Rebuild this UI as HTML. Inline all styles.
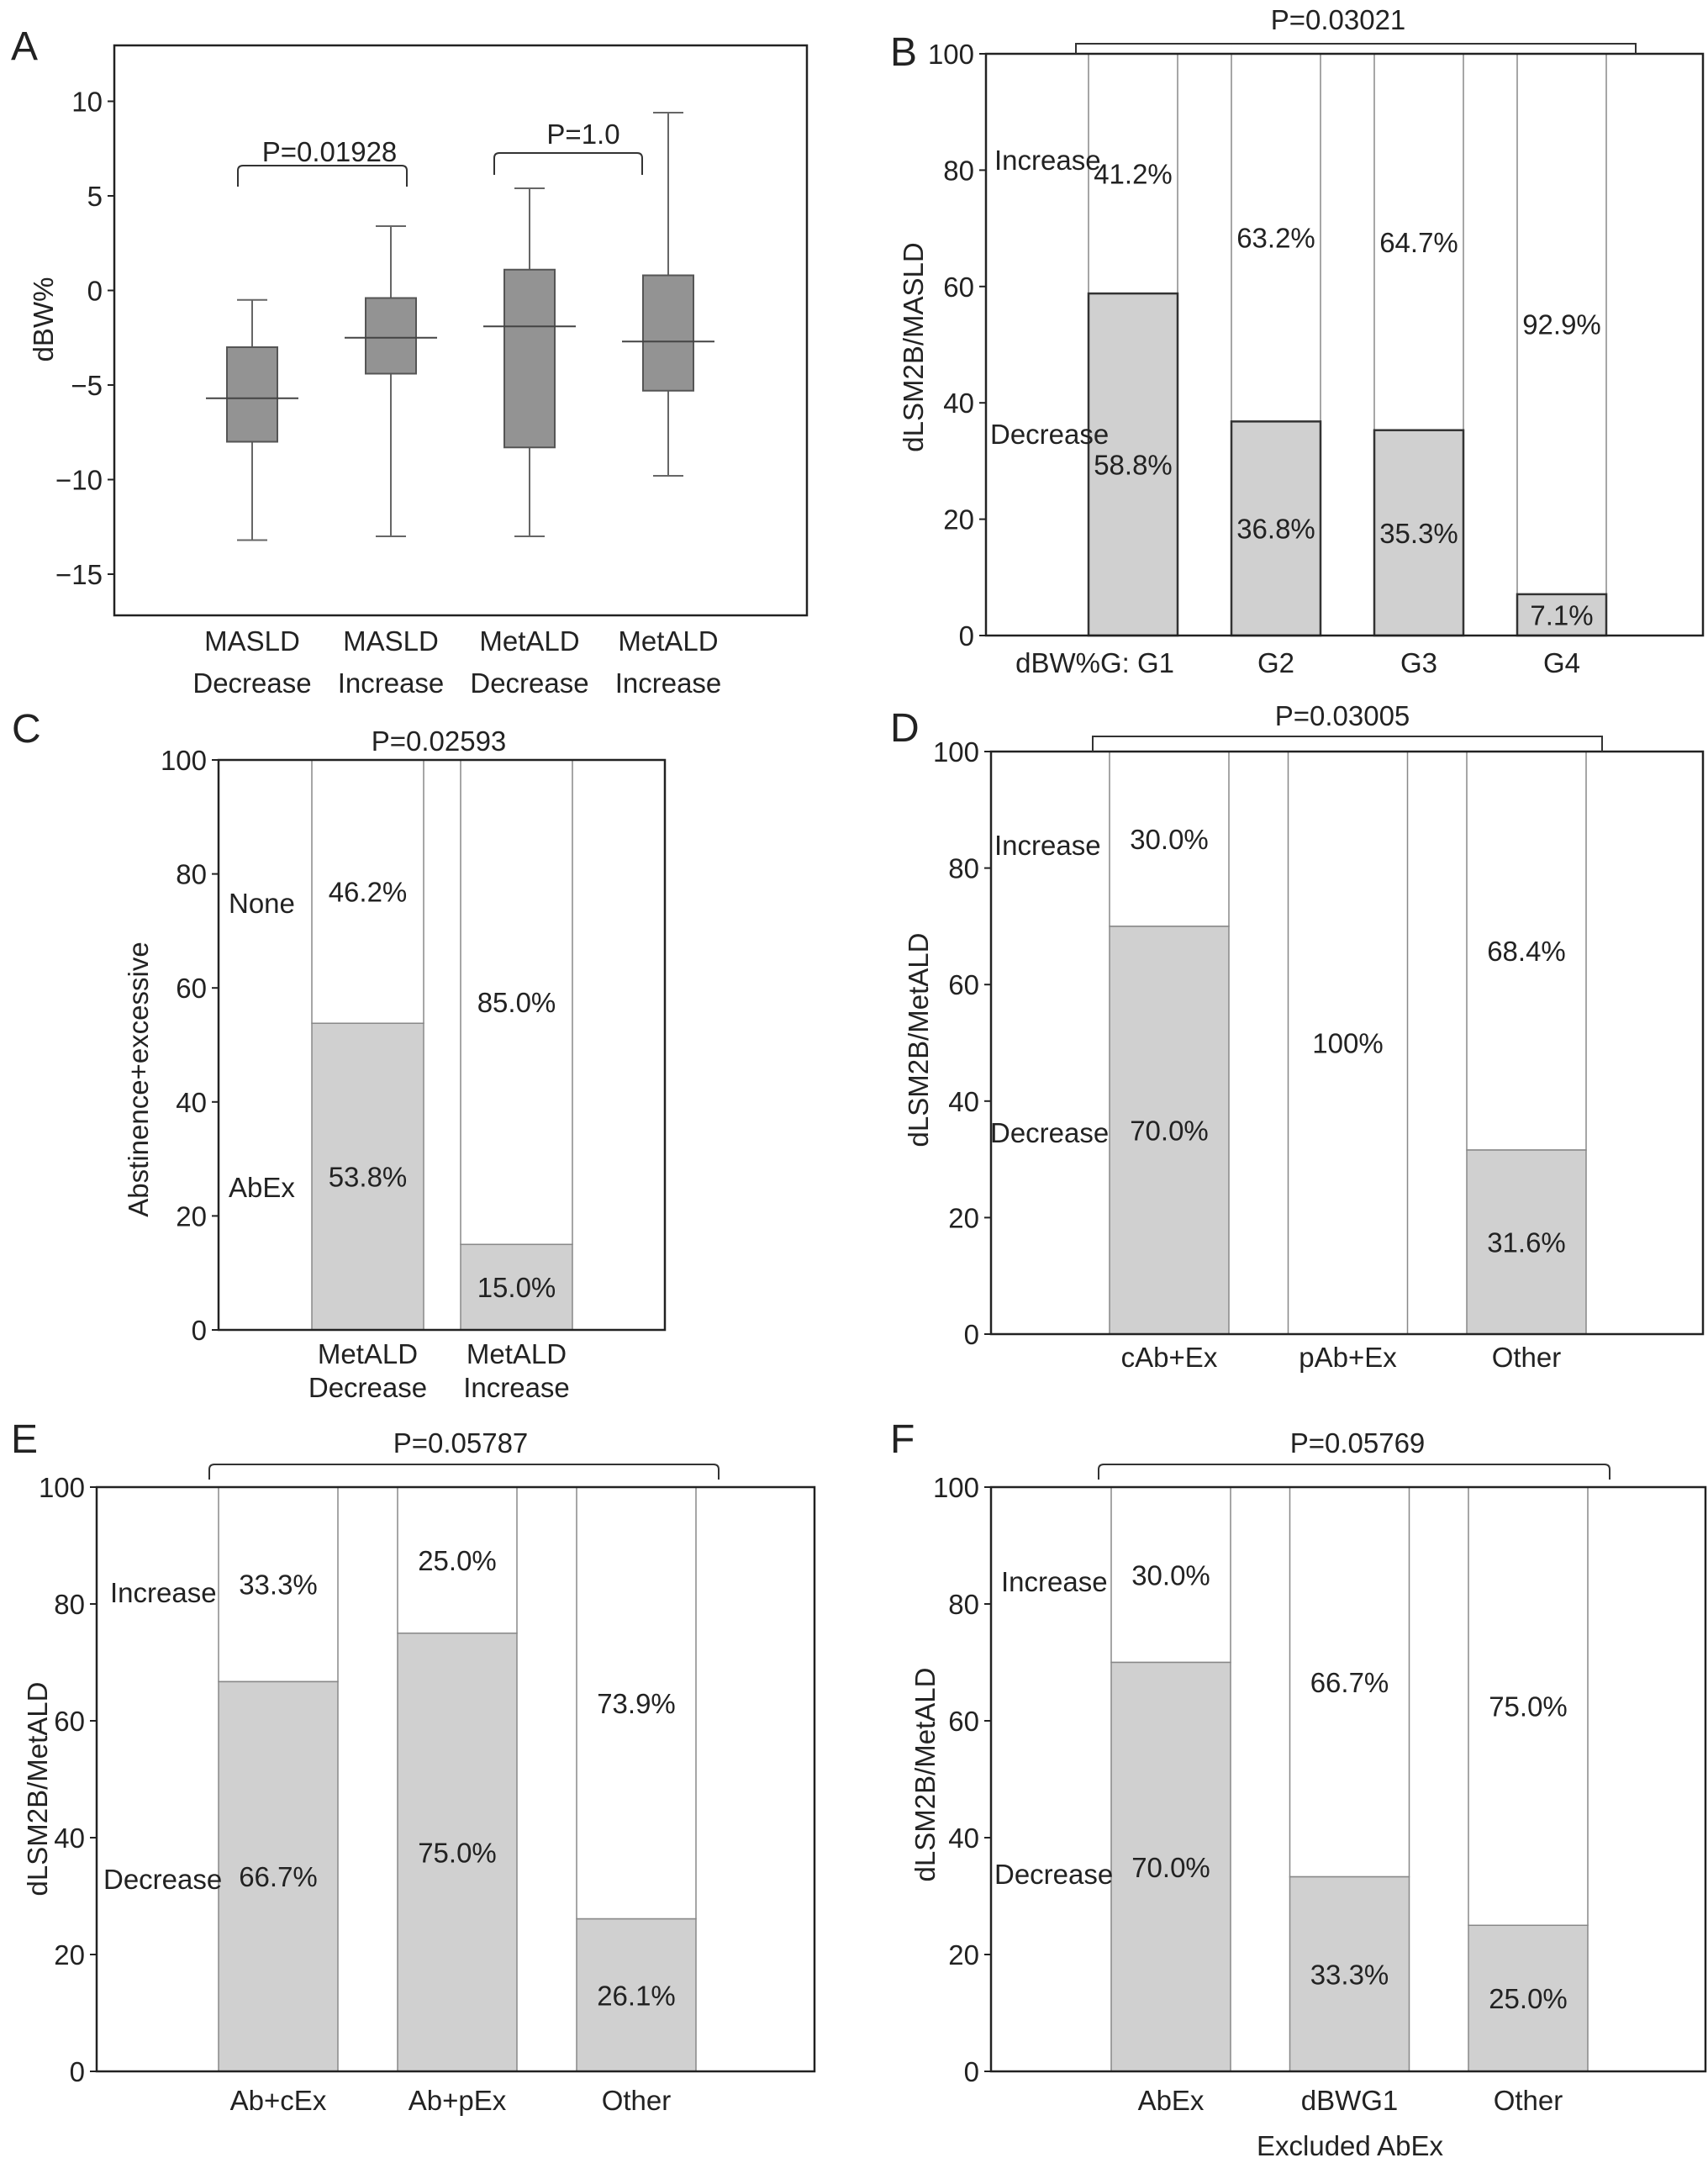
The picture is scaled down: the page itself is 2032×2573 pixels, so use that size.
<!DOCTYPE html>
<html><head><meta charset="utf-8"><style>
html,body{margin:0;padding:0;background:#fff}
svg{display:block;font-family:"Liberation Sans",Arial,sans-serif}
</style></head><body>
<svg id="fig" width="2032" height="2573" viewBox="0 0 2032 2573" xmlns="http://www.w3.org/2000/svg">
<rect width="2032" height="2573" fill="#fff"/>
</svg>
<script>
// ---------- Panel A data (box plots) ----------
const aCategories1 = ["MASLD","MASLD","MetALD","MetALD"];
const aCategories2 = ["Decrease","Increase","Decrease","Increase"];
const aMin = [-13.2,-13.0,-13.0,-9.8];
const aQ1 = [-8.0,-4.4,-8.3,-5.3];
const aMedian = [-5.7,-2.5,-1.9,-2.7];
const aQ3 = [-3.0,-0.4,1.1,0.8];
const aMax = [-0.5,3.4,5.4,9.4];
const aTicks = [10,5,0,-5,-10,-15];

// ---------- Panel B ----------
const bCategories = ["dBW%G: G1","G2","G3","G4"];
const bDecrease = [58.8,36.8,35.3,7.1];
const bIncLabels = ["41.2%","63.2%","64.7%","92.9%"];
const bDecLabels = ["58.8%","36.8%","35.3%","7.1%"];
// ---------- Panel C ----------
const cCategories1 = ["MetALD","MetALD"];
const cCategories2 = ["Decrease","Increase"];
const cAbEx = [53.8,15.0];
const cIncLabels = ["46.2%","85.0%"];
const cDecLabels = ["53.8%","15.0%"];
// ---------- Panel D ----------
const dCategories = ["cAb+Ex","pAb+Ex","Other"];
const dDecrease = [70.0,0,31.6];
const dIncLabels = ["30.0%","100%","68.4%"];
const dDecLabels = ["70.0%","","31.6%"];
// ---------- Panel E ----------
const eCategories = ["Ab+cEx","Ab+pEx","Other"];
const eDecrease = [66.7,75.0,26.1];
const eIncLabels = ["33.3%","25.0%","73.9%"];
const eDecLabels = ["66.7%","75.0%","26.1%"];
// ---------- Panel F ----------
const fCategories = ["AbEx","dBWG1","Other"];
const fDecrease = [70.0,33.3,25.0];
const fIncLabels = ["30.0%","66.7%","75.0%"];
const fDecLabels = ["70.0%","33.3%","25.0%"];
const pctTicks = [0,20,40,60,80,100];

const FS=33;
const NS="http://www.w3.org/2000/svg";
const svg=document.getElementById('fig');
function mk(tag,attrs,parent,text){
  const e=document.createElementNS(NS,tag);
  for(const k in attrs) e.setAttribute(k,attrs[k]);
  if(text!==undefined) e.textContent=text;
  (parent||svg).appendChild(e);
  return e;
}
function txt(x,y,s,parent,anchor,size,extra){
  return mk('text',Object.assign({x:x,y:y,'font-size':size||FS,'text-anchor':anchor||'middle',fill:'#222'},extra||{}),parent,s);
}

// ===== Panel A =====
(function(){
  const g=mk('g',{});
  
  
  const L=136,R=960,T=54,B=732;
  const y0=120.5, y1=683;
  const y=v=>y0+(10-v)*(y1-y0)/25;
  const x=i=>300+i*165;
  const lab=txt(13,71,'A',g,'start',48);
  
  
  const frame=mk('rect',{x:L,y:T,width:R-L,height:B-T,fill:'none',stroke:'#222','stroke-width':2.5},g);
  
  
  aTicks.forEach(v=>{
    mk('line',{x1:L-8,x2:L,y1:y(v),y2:y(v),stroke:'#222','stroke-width':2},g);
    const t=txt(L-14,y(v)+12,v<0?'\u2212'+Math.abs(v):String(v),g,'end',FS);
    
    
  });
  const yt=txt(0,0,'dBW%',g,'middle',FS,{transform:'translate(63,380) rotate(-90)'});
  
  
  aMin.forEach((_,i)=>{
    const cx=x(i);
    const bg=mk('g',{},g);
    
    
    mk('line',{x1:cx,x2:cx,y1:y(aMax[i]),y2:y(aQ3[i]),stroke:'#666','stroke-width':2},bg);
    mk('line',{x1:cx,x2:cx,y1:y(aQ1[i]),y2:y(aMin[i]),stroke:'#666','stroke-width':2},bg);
    mk('line',{x1:cx-18,x2:cx+18,y1:y(aMax[i]),y2:y(aMax[i]),stroke:'#666','stroke-width':2},bg);
    mk('line',{x1:cx-18,x2:cx+18,y1:y(aMin[i]),y2:y(aMin[i]),stroke:'#666','stroke-width':2},bg);
    mk('rect',{x:cx-30,y:y(aQ3[i]),width:60,height:y(aQ1[i])-y(aQ3[i]),fill:'#939393',stroke:'#555','stroke-width':2},bg);
    mk('line',{x1:cx-55,x2:cx+55,y1:y(aMedian[i]),y2:y(aMedian[i]),stroke:'#444','stroke-width':2},bg);
    const t1=txt(cx,774,aCategories1[i],g,'middle',FS);
    
    
    const t2=txt(cx,824,aCategories2[i],g,'middle',FS);
    
    
  });
  const br1=mk('path',{d:'M283,222 L283,203 Q283,197 289,197 L478,197 Q484,197 484,203 L484,222',fill:'none',stroke:'#333','stroke-width':2},g);
  
  
  const p1=txt(392,192,'P=0.01928',g,'middle',FS);
  
  
  const br2=mk('path',{d:'M588,208 L588,188 Q588,182 594,182 L758,182 Q764,182 764,188 L764,208',fill:'none',stroke:'#333','stroke-width':2},g);
  
  
  const p2=txt(694,171,'P=1.0',g,'middle',FS);
  
  
})();

function stacked(o){
  const g=mk('g',{});
  
  
  const y=v=>o.B-(v/100)*(o.B-o.T);
  const x=i=>o.c0+i*o.step;
  const lab=txt(o.letterX,o.letterY,o.letter,g,'start',48);
  
  
  o.dec.forEach((d,i)=>{
    const cx=x(i), w=o.w;
    const seg=mk('rect',{x:cx-w/2,y:o.T,width:w,height:y(d)-o.T,fill:'#fff',stroke:'#888','stroke-width':1.5},g);
    
    
    if(d>0){
      const b=mk('rect',{x:cx-w/2,y:y(d),width:w,height:o.B-y(d),fill:'#d0d0d0',stroke:o.barStroke,'stroke-width':o.barSW},g);
      
      
    }
    const it=txt(cx,y((100+d)/2)+12,o.inc[i],g,'middle',FS);
    
    
    if(o.decL[i]){
      const dt=txt(cx,y(d/2)+12,o.decL[i],g,'middle',FS);
      
      
    }
    if(o.cats2){
      const t1=txt(cx,o.xLabY,o.cats[i],g,'middle',FS);
      
      
      const t2=txt(cx,o.xLabY+40,o.cats2[i],g,'middle',FS);
      
      
    } else {
      const first=(i===0&&o.firstEnd);
      const t=txt(first?o.firstEnd:cx,o.xLabY,o.cats[i],g,first?'end':'middle',FS);
      
      
    }
  });
  const fr=mk('rect',{x:o.L,y:o.T,width:o.R-o.L,height:o.B-o.T,fill:'none',stroke:'#222','stroke-width':2.5},g);
  
  
  pctTicks.forEach(v=>{
    mk('line',{x1:o.L-8,x2:o.L,y1:y(v),y2:y(v),stroke:'#222','stroke-width':2},g);
    const t=txt(o.L-14,y(v)+12,String(v),g,'end',FS);
    
    
  });
  const yt=txt(0,0,o.ytitle,g,'middle',FS,{transform:'translate('+o.ytX+','+o.ytY+') rotate(-90)'});
  
  
  if(o.incText){
    const a=txt(o.incX,o.incY,o.incText,g,'start',FS);
    
    
    const b=txt(o.decX,o.decY,o.decText,g,'start',FS);
    
    
  }
  if(o.br){
    const [x1,x2,top,bot]=o.br;
    let d;
    if(o.brFlat) d='M'+x1+','+bot+' L'+x1+','+top+' L'+x2+','+top+' L'+x2+','+bot;
    else d='M'+x1+','+bot+' L'+x1+','+(top+6)+' Q'+x1+','+top+' '+(x1+6)+','+top+' L'+(x2-6)+','+top+' Q'+x2+','+top+' '+x2+','+(top+6)+' L'+x2+','+bot;
    const p=mk('path',{d:d,fill:'none',stroke:'#333','stroke-width':2},g);
    
    
  }
  const pt=txt(o.pX,o.pY,o.pText,g,'middle',FS);
  
  
  if(o.xtitle){
    const xt=txt(o.xtX,o.xtY,o.xtitle,g,'middle',FS);
    
    
  }
}

stacked({name:'panel-b',letter:'B',letterX:1059,letterY:78,L:1173,R:2026,T:64,B:756,c0:1348,step:170,w:106,
  dec:bDecrease,inc:bIncLabels,decL:bDecLabels,cats:bCategories,firstEnd:1397,xLabY:800,barStroke:'#333',barSW:2.5,
  ytitle:'dLSM2B/MASLD',ytX:1098,ytY:413,incText:'Increase',incX:1183,incY:202,decText:'Decrease',decX:1178,decY:528,
  br:[1280,1946,52,64],brFlat:true,pText:'P=0.03021',pX:1592,pY:35});
stacked({name:'panel-c',letter:'C',letterX:14,letterY:883,L:260,R:791,T:904,B:1582,c0:437.5,step:177,w:133,
  dec:cAbEx,inc:cIncLabels,decL:cDecLabels,cats:cCategories1,cats2:cCategories2,xLabY:1622,barStroke:'#888',barSW:1.5,
  ytitle:'Abstinence+excessive',ytX:176,ytY:1284,incText:'None',incX:272,incY:1086,decText:'AbEx',decX:272,decY:1424,
  pText:'P=0.02593',pX:522,pY:893});
stacked({name:'panel-d',letter:'D',letterX:1059,letterY:882,L:1179,R:2026,T:894,B:1587,c0:1391,step:212.5,w:142,
  dec:dDecrease,inc:dIncLabels,decL:dDecLabels,cats:dCategories,xLabY:1626,barStroke:'#888',barSW:1.5,
  ytitle:'dLSM2B/MetALD',ytX:1104,ytY:1237,incText:'Increase',incX:1183,incY:1017,decText:'Decrease',decX:1178,decY:1359,
  br:[1300,1906,876,894],brFlat:true,pText:'P=0.03005',pX:1597,pY:863});
stacked({name:'panel-e',letter:'E',letterX:13,letterY:1728,L:115,R:969,T:1769,B:2464,c0:331,step:213,w:142,
  dec:eDecrease,inc:eIncLabels,decL:eDecLabels,cats:eCategories,xLabY:2510,barStroke:'#888',barSW:1.5,
  ytitle:'dLSM2B/MetALD',ytX:56,ytY:2128,incText:'Increase',incX:131,incY:1906,decText:'Decrease',decX:123,decY:2247,
  br:[249,855,1742,1760],pText:'P=0.05787',pX:548,pY:1728});
stacked({name:'panel-f',letter:'F',letterX:1059,letterY:1728,L:1179,R:2029,T:1769,B:2464,c0:1393,step:212.5,w:142,
  dec:fDecrease,inc:fIncLabels,decL:fDecLabels,cats:fCategories,xLabY:2510,barStroke:'#888',barSW:1.5,
  ytitle:'dLSM2B/MetALD',ytX:1112,ytY:2111,incText:'Increase',incX:1191,incY:1893,decText:'Decrease',decX:1183,decY:2241,
  br:[1307,1915,1742,1760],pText:'P=0.05769',pX:1615,pY:1728,xtitle:'Excluded AbEx',xtX:1606,xtY:2564});
</script>
</body></html>
